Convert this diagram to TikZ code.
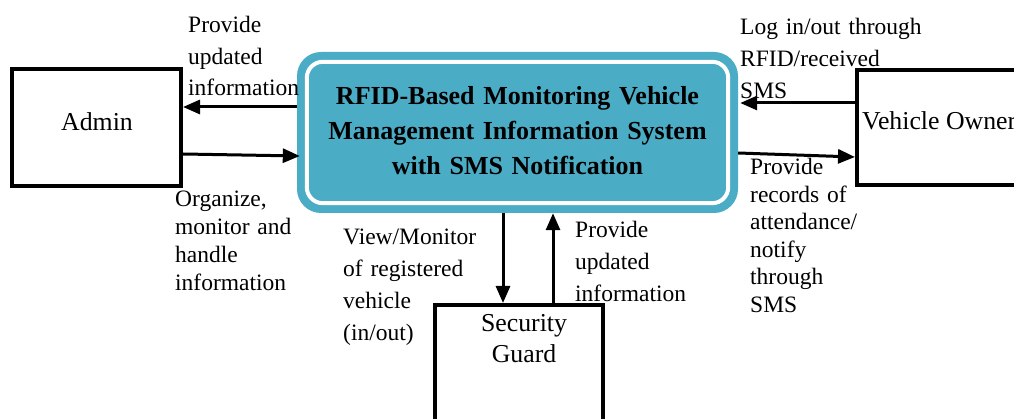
\documentclass[tikz,border=0pt]{standalone}
\usepackage{fontspec}
\setmainfont{Liberation Serif}
\usetikzlibrary{arrows.meta}
\definecolor{sysblue}{RGB}{75,172,198}
\begin{document}
\begin{tikzpicture}[x=1pt,y=-1pt,
  entity/.style={draw=black,line width=4pt,inner sep=0pt},
  entitytext/.style={inner sep=0pt,font=\fontsize{25.8}{30}\selectfont},
  sysbox/.style={fill=sysblue,draw=none,rounded corners=24pt,minimum width=441pt,minimum height=161pt,inner sep=0pt},
  systext/.style={anchor=base,inner sep=0pt,text width=430pt,font=\fontsize{26}{35}\selectfont\bfseries},
  flow/.style={line width=3pt,-{Triangle[length=17pt,width=14pt]}},
  lbl/.style={anchor=base west,inner sep=0pt,text width=200pt,font=\fontsize{23.5}{#1}\selectfont},
]
\useasboundingbox (0,0) rectangle (1014,419);
\clip (0,0) rectangle (1014,419);

% central process
\node[sysbox] (sys) at (517.5,132.5) {};
\draw[white,line width=4pt,rounded corners=16pt]
  ([shift={(10pt,-10pt)}]sys.north west) rectangle ([shift={(-10pt,10pt)}]sys.south east);
\node[systext] (systitle) at (517.5,105) {\centering RFID-Based Monitoring Vehicle\\Management Information System\\with SMS Notification\par};

% entities
\node[entity,minimum width=169pt,minimum height=117pt] (admin) at (96.5,127.5) {};
\node[entitytext,anchor=base] (admintext) at (97,131) {Admin};

\node[entity,minimum width=203pt,minimum height=115pt] (owner) at (958.5,127.5) {};
\node[entitytext,anchor=base west] (ownertext) at (862,130) {Vehicle Owner};

\node[entity,minimum width=168pt,minimum height=155pt] (guard) at (519,382.5) {};
\node[entitytext,anchor=base,align=center] (guardtext) at (524,362) {Security\\Guard};

% flows
\draw[flow] (sys.west |- 0,107) -- (admin.east |- 0,107);
\draw[flow] (admin.east |- 0,154) -- ([xshift=3pt]sys.west |- 0,156);
\draw[flow] (owner.west |- 0,103) -- ([xshift=2pt]sys.east |- 0,103);
\draw[flow] (sys.east |- 0,153) -- (owner.west |- 0,157);
\draw[flow] (sys.south -| 503,0) -- (guard.north -| 503,0);
\draw[flow] (guard.north -| 553,0) -- (sys.south -| 553,0);

% flow labels
\node[lbl=31.5] (l1) at (188,33) {Provide\\updated\\information};
\node[lbl=27.7] (l2) at (175,207) {Organize,\\monitor and\\handle\\information};
\node[lbl=32] (l3) at (343,245) {View/Monitor\\of registered\\vehicle\\(in/out)};
\node[lbl=32] (l4) at (575,238) {Provide\\updated\\information};
\node[lbl=32] (l5) at (740,35) {Log in/out through\\RFID/received\\SMS};
\node[lbl=27.5] (l6) at (750,175) {Provide\\records of\\attendance/\\notify\\through\\SMS};
\end{tikzpicture}
\end{document}
